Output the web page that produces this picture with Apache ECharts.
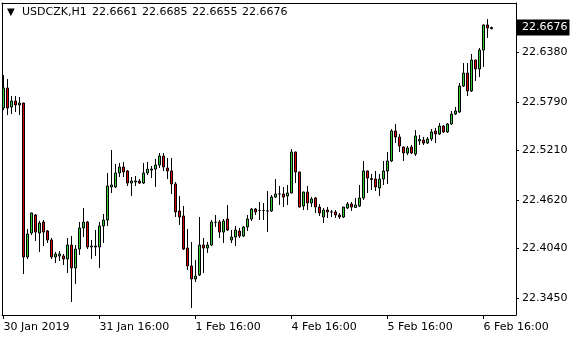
<!DOCTYPE html>
<html>
<head>
<meta charset="utf-8">
<script src="https://cdn.jsdelivr.net/npm/echarts@6/dist/echarts.min.js"></script>
<style>
html,body{margin:0;padding:0;background:#fff;}
#c{width:580px;height:340px;}
</style>
</head>
<body>
<div id="c"></div>
<script>
const symbol = 'USDCZK,H1';

const times = [
'2019.01.30 16:00','2019.01.30 17:00','2019.01.30 18:00','2019.01.30 19:00','2019.01.30 20:00','2019.01.30 21:00','2019.01.30 22:00','2019.01.30 23:00',
'2019.01.31 00:00','2019.01.31 01:00','2019.01.31 02:00','2019.01.31 03:00','2019.01.31 04:00','2019.01.31 05:00','2019.01.31 06:00','2019.01.31 07:00',
'2019.01.31 08:00','2019.01.31 09:00','2019.01.31 10:00','2019.01.31 11:00','2019.01.31 12:00','2019.01.31 13:00','2019.01.31 14:00','2019.01.31 15:00',
'2019.01.31 16:00','2019.01.31 17:00','2019.01.31 18:00','2019.01.31 19:00','2019.01.31 20:00','2019.01.31 21:00','2019.01.31 22:00','2019.01.31 23:00',
'2019.02.01 00:00','2019.02.01 01:00','2019.02.01 02:00','2019.02.01 03:00','2019.02.01 04:00','2019.02.01 05:00','2019.02.01 06:00','2019.02.01 07:00',
'2019.02.01 08:00','2019.02.01 09:00','2019.02.01 10:00','2019.02.01 11:00','2019.02.01 12:00','2019.02.01 13:00','2019.02.01 14:00','2019.02.01 15:00',
'2019.02.01 16:00','2019.02.01 17:00','2019.02.01 18:00','2019.02.01 19:00','2019.02.01 20:00','2019.02.01 21:00','2019.02.01 22:00','2019.02.01 23:00',
'2019.02.04 00:00','2019.02.04 01:00','2019.02.04 02:00','2019.02.04 03:00','2019.02.04 04:00','2019.02.04 05:00','2019.02.04 06:00','2019.02.04 07:00',
'2019.02.04 08:00','2019.02.04 09:00','2019.02.04 10:00','2019.02.04 11:00','2019.02.04 12:00','2019.02.04 13:00','2019.02.04 14:00','2019.02.04 15:00',
'2019.02.04 16:00','2019.02.04 17:00','2019.02.04 18:00','2019.02.04 19:00','2019.02.04 20:00','2019.02.04 21:00','2019.02.04 22:00','2019.02.04 23:00',
'2019.02.05 00:00','2019.02.05 01:00','2019.02.05 02:00','2019.02.05 03:00','2019.02.05 04:00','2019.02.05 05:00','2019.02.05 06:00','2019.02.05 07:00',
'2019.02.05 08:00','2019.02.05 09:00','2019.02.05 10:00','2019.02.05 11:00','2019.02.05 12:00','2019.02.05 13:00','2019.02.05 14:00','2019.02.05 15:00',
'2019.02.05 16:00','2019.02.05 17:00','2019.02.05 18:00','2019.02.05 19:00','2019.02.05 20:00','2019.02.05 21:00','2019.02.05 22:00','2019.02.05 23:00',
'2019.02.06 00:00','2019.02.06 01:00','2019.02.06 02:00','2019.02.06 03:00','2019.02.06 04:00','2019.02.06 05:00','2019.02.06 06:00','2019.02.06 07:00',
'2019.02.06 08:00','2019.02.06 09:00','2019.02.06 10:00','2019.02.06 11:00','2019.02.06 12:00','2019.02.06 13:00','2019.02.06 14:00','2019.02.06 15:00',
'2019.02.06 16:00','2019.02.06 17:00','2019.02.06 18:00'
];

const open = [
22.5716,22.5954,22.5728,22.5799,22.5752,22.5775,22.3939,22.4225,22.4440,22.4225,
22.4356,22.4249,22.4142,22.3939,22.3951,22.3951,22.3915,22.4082,22.3808,22.4034,
22.4285,22.4356,22.4058,22.4058,22.4058,22.4309,22.4380,22.4774,22.4774,22.4941,
22.5012,22.4965,22.4821,22.4833,22.4845,22.4821,22.4941,22.4976,22.4988,22.5036,
22.5143,22.5000,22.4965,22.4810,22.4488,22.4428,22.4046,22.3832,22.3677,22.3724,
22.4082,22.4046,22.4082,22.4353,22.4356,22.4237,22.4392,22.4142,22.4177,22.4249,
22.4189,22.4297,22.4392,22.4511,22.4493,22.4493,22.4488,22.4488,22.4654,22.4690,
22.4690,22.4666,22.4702,22.5191,22.4953,22.4547,22.4714,22.4583,22.4643,22.4535,
22.4416,22.4499,22.4476,22.4476,22.4440,22.4416,22.4523,22.4571,22.4529,22.4547,
22.4643,22.4965,22.4875,22.4869,22.4762,22.4869,22.4965,22.5084,22.5442,22.5370,
22.5251,22.5179,22.5251,22.5167,22.5322,22.5334,22.5298,22.5346,22.5442,22.5406,
22.5501,22.5430,22.5525,22.5644,22.5668,22.5978,22.6133,22.5919,22.6288,22.6181,
22.6407,22.6706,22.6661
];

const high = [
22.6109,22.6062,22.5859,22.5859,22.5847,22.5779,22.4273,22.4468,22.4452,22.4368,
22.4380,22.4261,22.4166,22.3999,22.4011,22.3975,22.4166,22.4189,22.4082,22.4356,
22.4523,22.4368,22.4142,22.4261,22.4356,22.4452,22.4941,22.5215,22.5048,22.5060,
22.5072,22.4976,22.4893,22.4905,22.4869,22.5060,22.5072,22.5024,22.5108,22.5179,
22.5179,22.5120,22.5120,22.4833,22.4666,22.4547,22.4273,22.4118,22.3903,22.4416,
22.4166,22.4118,22.4380,22.4440,22.4380,22.4392,22.4559,22.4261,22.4309,22.4285,
22.4309,22.4440,22.4523,22.4523,22.4595,22.4583,22.4726,22.4678,22.4869,22.4786,
22.4774,22.4798,22.5227,22.5195,22.4957,22.4718,22.4786,22.4654,22.4654,22.4571,
22.4523,22.4535,22.4499,22.4499,22.4464,22.4539,22.4595,22.4595,22.4643,22.4798,
22.5084,22.4969,22.4929,22.4965,22.4929,22.5084,22.5191,22.5465,22.5525,22.5406,
22.5255,22.5263,22.5275,22.5453,22.5394,22.5370,22.5370,22.5465,22.5477,22.5537,
22.5513,22.5537,22.5680,22.5728,22.6014,22.6252,22.6252,22.6360,22.6292,22.6431,
22.6710,22.6777,22.6685
];

const low = [
22.5692,22.5632,22.5644,22.5668,22.5632,22.3736,22.3915,22.4201,22.4130,22.3999,
22.4070,22.4106,22.3915,22.3867,22.3891,22.3844,22.3748,22.3402,22.3617,22.3963,
22.4177,22.4034,22.3915,22.3951,22.3808,22.4106,22.4309,22.4702,22.4762,22.4893,
22.4893,22.4786,22.4666,22.4786,22.4810,22.4810,22.4917,22.4881,22.4774,22.5000,
22.4965,22.4869,22.4690,22.4416,22.4321,22.4022,22.3784,22.3331,22.3641,22.3712,
22.3748,22.3987,22.4070,22.4297,22.4166,22.4106,22.4249,22.4106,22.4070,22.4166,
22.4177,22.4249,22.4368,22.4440,22.4380,22.4380,22.4237,22.4476,22.4643,22.4559,
22.4535,22.4559,22.4698,22.4821,22.4531,22.4499,22.4499,22.4535,22.4464,22.4428,
22.4344,22.4404,22.4416,22.4404,22.4392,22.4404,22.4511,22.4488,22.4523,22.4535,
22.4619,22.4702,22.4738,22.4726,22.4666,22.4798,22.4810,22.5072,22.5298,22.5191,
22.5084,22.5155,22.5167,22.5143,22.5275,22.5275,22.5287,22.5322,22.5298,22.5394,
22.5418,22.5418,22.5513,22.5632,22.5656,22.5966,22.5859,22.5907,22.6038,22.6085,
22.6205,22.6551,22.6655
];

const close = [
22.5954,22.5716,22.5799,22.5752,22.5775,22.3939,22.4213,22.4464,22.4237,22.4344,
22.4237,22.4142,22.3939,22.3975,22.3975,22.3915,22.4082,22.3808,22.4034,22.4285,
22.4356,22.4058,22.4070,22.4070,22.4309,22.4380,22.4786,22.4798,22.4941,22.5012,
22.4953,22.4821,22.4845,22.4845,22.4821,22.4941,22.4988,22.4988,22.5036,22.5143,
22.5012,22.4965,22.4810,22.4476,22.4416,22.4034,22.3832,22.3677,22.3712,22.4082,
22.4046,22.4082,22.4356,22.4353,22.4237,22.4368,22.4261,22.4177,22.4261,22.4189,
22.4297,22.4392,22.4511,22.4476,22.4493,22.4493,22.4488,22.4654,22.4690,22.4690,
22.4654,22.4702,22.5191,22.4953,22.4535,22.4714,22.4583,22.4631,22.4535,22.4464,
22.4499,22.4476,22.4476,22.4440,22.4416,22.4535,22.4571,22.4535,22.4559,22.4643,
22.4965,22.4881,22.4863,22.4774,22.4869,22.4965,22.5084,22.5442,22.5370,22.5263,
22.5179,22.5239,22.5179,22.5382,22.5340,22.5298,22.5346,22.5430,22.5406,22.5501,
22.5430,22.5525,22.5644,22.5680,22.5978,22.6133,22.5919,22.6288,22.6181,22.6407,
22.6706,22.6670,22.6676
];

const priceTicks = [22.3450, 22.4040, 22.4620, 22.5210, 22.5790, 22.6380];
const timeTickIndex = [0, 24, 48, 72, 96, 120];
const timeTickLabels = ['30 Jan 2019', '31 Jan 16:00', '1 Feb 16:00', '4 Feb 16:00', '5 Feb 16:00', '6 Feb 16:00'];

const last = open.length - 1;
const lastClose = close[last];
const FONT = 'DejaVu Sans';

const Y_MIN = 22.32473, Y_MAX = 22.69679;
const X_MIN = -0.375, X_MAX = 128.125;

const seriesData = open.map((o, i) => [i, o, close[i], low[i], high[i]]);

const headerText = '{tri|▼}{sym|' + symbol + '}' +
  [open[last], high[last], low[last], close[last]].map(v => '{p|' + v.toFixed(4) + '}').join('');

const lineOnly = {
  axisLine: { show: true, onZero: false, lineStyle: { color: '#000', width: 1 } },
  axisTick: { show: false }, axisLabel: { show: false }, splitLine: { show: false }
};

const chart = echarts.init(document.getElementById('c'), null, {renderer: 'canvas'});
chart.setOption({
  animation: false,
  backgroundColor: '#ffffff',
  title: {
    text: headerText,
    left: 7,
    top: 6,
    padding: 0,
    textStyle: {
      fontFamily: FONT, fontSize: 11, fontWeight: 'normal', color: '#000', lineHeight: 13,
      rich: {
        tri: { fontFamily: FONT, fontSize: 10, color: '#000', lineHeight: 13, width: 15 },
        sym: { fontFamily: FONT, fontSize: 11, color: '#000', lineHeight: 13, width: 70 },
        p: { fontFamily: FONT, fontSize: 11, color: '#000', lineHeight: 13, width: 50 }
      }
    }
  },
  grid: {
    left: 2, top: 3, width: 514, height: 312,
    show: false, containLabel: false
  },
  xAxis: [{
    type: 'value',
    min: X_MIN,
    max: X_MAX,
    position: 'bottom',
    axisLine: { show: true, onZero: false, lineStyle: { color: '#000', width: 1 } },
    splitLine: { show: false },
    axisTick: { show: true, customValues: timeTickIndex, length: 4, lineStyle: { color: '#000' } },
    axisLabel: {
      customValues: timeTickIndex,
      formatter: (v) => timeTickLabels[timeTickIndex.indexOf(Math.round(v))],
      align: 'left', margin: 7, color: '#000', fontFamily: FONT, fontSize: 11
    }
  }, Object.assign({ type: 'value', min: X_MIN, max: X_MAX, position: 'top' }, lineOnly)],
  yAxis: [{
    type: 'value',
    position: 'right',
    min: Y_MIN,
    max: Y_MAX,
    axisLine: { show: true, onZero: false, lineStyle: { color: '#000', width: 1 } },
    splitLine: { show: false },
    axisTick: { show: true, customValues: priceTicks, length: 3, lineStyle: { color: '#000' } },
    axisLabel: {
      customValues: priceTicks,
      formatter: (v) => v.toFixed(4),
      margin: 6, color: '#000', fontFamily: FONT, fontSize: 11
    }
  }, {
    type: 'value',
    position: 'right',
    min: Y_MIN,
    max: Y_MAX,
    axisLine: { show: false },
    splitLine: { show: false },
    axisTick: { show: false },
    axisLabel: {
      customValues: [lastClose],
      formatter: (v) => v.toFixed(4),
      margin: 1, color: '#fff', backgroundColor: '#000',
      padding: [2, 2, 1, 5], lineHeight: 13,
      fontFamily: FONT, fontSize: 11
    }
  }, Object.assign({ type: 'value', min: Y_MIN, max: Y_MAX, position: 'left' }, lineOnly)],
  series: [{
    type: 'candlestick',
    xAxisIndex: 0,
    yAxisIndex: 0,
    data: seriesData,
    barWidth: 2,
    itemStyle: {
      color: '#32cd32', color0: '#e00000',
      borderColor: '#000', borderColor0: '#000', borderColorDoji: '#000',
      borderWidth: 1
    }
  }]
});
</script>
</body>
</html>
